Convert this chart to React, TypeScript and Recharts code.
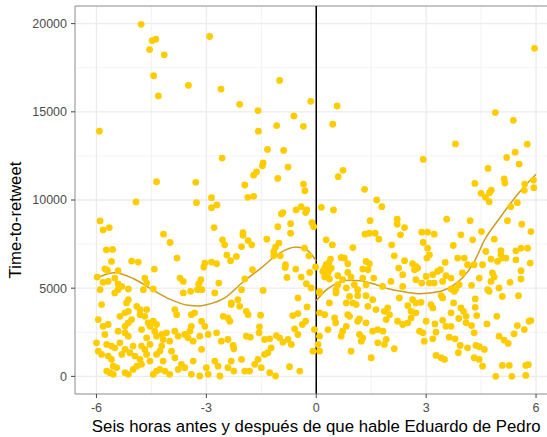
import React from 'react';
import {
  ComposedChart,
  Scatter,
  Line,
  XAxis,
  YAxis,
  CartesianGrid,
  ReferenceLine,
  Customized,
} from 'recharts';

// [hours relative to the speech, time-to-retweet]
const before: [number, number][] = [
  [-4.78, 19960], [-4.48, 19040], [-4.38, 19115], [-4.55, 18530], [-4.15, 18230], [-4.44, 17045],
  [-3.49, 16500], [-4.31, 15900], [-5.92, 13900], [-4.36, 11035], [-3.29, 11000],
  [-2.91, 19270], [-2.6, 16290], [-1.0, 16780], [-2.09, 15425], [-1.59, 15070], [-0.15, 15595],
  [-0.61, 14765], [-1.08, 14220], [-0.35, 14180], [-1.58, 13900], [-1.33, 12865], [-0.89, 12810],
  [-2.57, 12375], [-1.45, 12110], [-1.47, 11940], [-0.77, 11865], [-1.63, 11600], [-1.71, 11410],
  [-1.05, 11225], [-1.95, 10850], [-0.35, 10905], [-0.31, 10525], [-2.86, 10130], [-1.87, 10150],
  [-1.71, 10210],
  [-4.92, 9890], [-5.9, 8815], [-5.82, 8305], [-5.65, 8435], [-5.73, 7175], [-5.56, 7195],
  [-5.59, 6515], [-5.04, 6535], [-4.86, 6480], [-5.77, 6100], [-5.7, 6005], [-5.41, 5990],
  [-5.98, 5630], [-5.82, 5330], [-5.68, 5385], [-5.5, 5575], [-5.41, 5240], [-5.31, 5100],
  [-5.9, 4915], [-5.41, 4915], [-5.13, 4955], [-4.68, 5575], [-4.63, 5290], [-4.72, 4915],
  [-4.45, 4955], [-4.42, 6085], [-4.17, 8060], [-3.99, 7590], [-3.8, 6705], [-3.72, 5575],
  [-3.63, 5385], [-3.63, 4730], [-3.43, 4820], [-3.27, 9850], [-2.86, 9565], [-2.71, 9720],
  [-2.79, 8435], [-2.56, 7740], [-2.5, 7460], [-2.44, 6875], [-2.34, 6555], [-3.04, 6425],
  [-2.86, 6480], [-2.72, 6385], [-3.07, 6200], [-3.15, 5480], [-3.21, 5240], [-3.24, 4915],
  [-3.12, 4915], [-2.66, 5290],
  [-5.5, 4730], [-5.86, 4070], [-5.18, 4165], [-5.13, 4350], [-4.9, 3970], [-4.81, 3785],
  [-4.63, 3785], [-4.81, 3500], [-4.68, 3405], [-5.36, 3405], [-5.22, 3600], [-5.13, 3690],
  [-5.95, 3220], [-5.68, 2940], [-5.82, 2840], [-5.22, 2840], [-5.41, 2560], [-5.22, 2470],
  [-5.13, 2280], [-5.77, 2375], [-4.54, 2840], [-4.45, 3125], [-4.36, 2940], [-3.86, 3785],
  [-3.81, 3500], [-3.41, 3500], [-3.32, 3600], [-3.41, 2840], [-3.45, 2560], [-3.59, 2375],
  [-3.77, 2280], [-3.86, 2560], [-4.09, 2470], [-4.22, 2375], [-3.13, 3125], [-3.04, 2840],
  [-2.95, 2375], [-2.72, 2470], [-2.59, 1995], [-2.41, 2090], [-2.77, 4730], [-2.32, 4070],
  [-2.54, 3405], [-2.41, 3315], [-2.36, 3125], [-3.13, 1525], [-3.36, 865], [-3.18, 20],
  [-2.95, 113], [-3.0, 490], [-2.77, 865], [-2.68, 580], [-2.41, 490], [-2.63, 20],
  [-2.32, 865], [-6.0, 1900], [-5.95, 1430], [-5.86, 1245], [-5.72, 1810], [-5.59, 1715],
  [-5.5, 1620], [-5.68, 1150], [-5.59, 960], [-5.54, 580], [-5.45, 490], [-5.72, 300],
  [-5.63, 210], [-5.54, 113], [-5.31, 1245], [-5.22, 1525], [-5.09, 1340], [-5.0, 1715],
  [-4.95, 1150], [-4.81, 960], [-4.77, 1715], [-4.68, 1525], [-4.63, 1245], [-4.54, 865],
  [-4.77, 680], [-4.9, 580], [-5.0, 395], [-5.22, 210], [-5.13, 113], [-5.36, 1900],
  [-4.36, 300], [-4.45, 113], [-4.27, 395], [-4.13, 300], [-4.0, 113], [-4.18, 865],
  [-4.36, 1245], [-4.27, 1430], [-4.22, 1715], [-3.95, 1430], [-3.86, 1055], [-3.68, 680],
  [-3.59, 490], [-3.77, 395], [-3.41, 113], [-3.5, 2185], [-3.36, 1995], [-3.18, 2280],
  [-4.0, 1995], [-4.18, 2090], [-4.54, 1810], [-4.63, 2185], [-4.77, 2655], [-4.59, 3035],
  [-4.41, 2560], [-4.36, 2280], [-5.13, 3035], [-5.04, 3220],
  [-0.91, 9285], [-0.95, 9210], [-0.55, 9435], [-0.41, 9620], [-0.26, 9435], [-0.29, 9285],
  [-0.7, 8660], [-1.05, 8490], [-0.12, 8715], [-0.07, 8490], [-0.7, 8115], [-2.0, 8150],
  [-2.0, 8000], [-1.35, 7780], [-1.86, 7700], [-1.76, 7460], [-2.04, 7360], [-1.02, 7555],
  [-1.11, 7330], [-1.16, 7080], [-1.16, 6835], [-0.98, 6835], [-0.32, 7270], [-0.2, 6835],
  [-2.18, 6800], [-0.84, 6330], [-0.85, 6175], [-0.56, 6085], [-0.02, 6200], [-0.18, 5895],
  [-1.74, 6045], [-0.8, 5610], [-0.41, 5630], [-1.95, 5520], [-0.27, 5255], [-0.14, 5010],
  [-1.45, 4875], [-2.04, 4915],
  [-2.14, 4350], [-2.32, 4165], [-2.09, 3970], [-1.91, 3690], [-1.86, 3500], [-1.52, 3465],
  [-1.55, 2810], [-1.56, 2470], [-1.91, 2280], [-1.8, 2220], [-2.27, 1750], [-2.25, 1565],
  [-1.41, 2090], [-1.27, 2130], [-1.09, 2315], [-1.0, 2185], [-0.91, 1940], [-0.77, 2090],
  [-0.68, 1810], [-1.23, 1620], [-1.32, 1340], [-1.41, 1245], [-1.59, 960], [-1.68, 680],
  [-1.5, 490], [-2.04, 960], [-2.25, 300], [-1.95, 300], [-1.82, 300], [-1.27, 210],
  [-1.11, 20], [-0.73, 545], [-0.45, 300], [-0.5, 4445], [-0.25, 3940], [-0.64, 3445],
  [-0.5, 3560], [-0.29, 3125], [-0.38, 2940], [-0.59, 2695], [-0.5, 2375], [-0.09, 1430],
  [-0.05, 2655],
];

const after: [number, number][] = [
  [5.96, 18600], [4.89, 14955], [5.38, 14520], [3.8, 13180], [5.76, 13165], [2.92, 12300],
  [5.43, 12710], [5.2, 12410], [5.54, 12035], [4.69, 11790], [1.32, 10605], [4.33, 10940],
  [5.13, 11190], [5.15, 10960], [5.69, 10905], [5.93, 11130], [5.94, 10700], [5.68, 10550],
  [4.5, 10380], [4.78, 10565], [4.73, 10415], [4.62, 10150], [1.65, 10000], [0.57, 15330],
  [0.45, 14295], [0.73, 11680], [0.6, 11320],
  [0.14, 9585], [0.47, 9435], [0.27, 7740], [0.44, 7460], [1.0, 7305], [1.33, 8060],
  [1.45, 8115], [1.61, 8115], [1.71, 7780], [1.47, 8830], [1.79, 9620], [0.68, 6740],
  [0.77, 6705], [0.86, 6385], [0.39, 6650], [0.34, 6425], [0.27, 6330], [0.23, 6140],
  [0.41, 6140], [0.18, 5950], [0.32, 5860], [0.36, 6045], [0.23, 5630], [0.36, 5520],
  [0.59, 5705], [0.86, 5895], [0.95, 5630], [0.72, 5480], [0.59, 5200], [1.04, 5200],
  [1.36, 6515], [1.45, 6385], [1.27, 6085], [1.41, 6045], [1.57, 5575], [1.27, 5575],
  [1.36, 5200], [1.81, 5100], [0.82, 5010], [0.54, 4915], [0.09, 4820], [1.13, 4915],
  [0.09, 4730], [0.36, 4165], [0.54, 4730], [0.91, 4535], [1.13, 4575], [1.36, 4575],
  [1.54, 4350], [0.09, 3600], [0.23, 3500], [0.5, 3315], [0.53, 3035], [0.82, 4165],
  [1.0, 4165], [1.09, 4070], [0.86, 3500], [0.91, 3405], [1.13, 3125], [1.18, 3260],
  [1.41, 3970], [1.63, 3785], [1.36, 3035], [1.86, 3690], [1.91, 3220], [0.82, 2840],
  [0.72, 2560], [0.68, 2280], [0.32, 2655], [0.09, 2280], [0.05, 1810], [0.09, 1430],
  [1.18, 2375], [1.23, 1995], [1.27, 2185], [1.54, 2560], [1.68, 2655], [1.82, 2560],
  [1.68, 1900], [1.86, 1810], [0.95, 1430], [1.5, 1055],
  [4.72, 9905], [5.31, 9620], [5.49, 9850], [5.22, 8830], [5.61, 8625], [5.86, 8210],
  [2.21, 8910], [2.21, 8625], [2.41, 8435], [2.3, 8025], [3.56, 8910], [4.2, 8830],
  [2.88, 8175], [3.04, 8175], [3.22, 8060], [3.95, 8025], [4.51, 8210], [4.27, 7740],
  [4.86, 7780], [2.92, 7590], [2.06, 7460], [3.74, 7420], [3.04, 7270], [4.63, 7080],
  [5.04, 7135], [5.59, 7270], [5.77, 7270], [5.45, 7120], [2.13, 6835], [3.09, 6890],
  [3.02, 6705], [5.04, 6890], [5.08, 6705], [5.18, 6705], [3.86, 6705], [4.04, 6705],
  [4.77, 6650], [5.45, 6610], [2.41, 6555], [3.52, 6460], [4.95, 6515], [2.63, 6385],
  [2.72, 6230], [2.77, 6140], [2.68, 6045], [2.25, 6140], [4.31, 6330], [4.54, 6330],
  [5.84, 6425], [4.13, 6330], [3.99, 5860], [3.39, 6045], [5.59, 5990], [2.36, 5765],
  [3.0, 5665], [3.18, 5765], [3.31, 5950], [3.54, 5705], [3.68, 5575], [4.81, 5860],
  [4.86, 5630], [4.77, 5385], [4.45, 5575], [5.59, 5520], [5.29, 5330], [2.72, 5480],
  [2.04, 5385], [2.88, 5290], [3.09, 5290], [3.22, 5290], [3.45, 5385], [3.9, 5200],
  [4.24, 5160], [4.99, 5010], [2.36, 5100], [3.68, 4955], [3.81, 4955], [4.68, 4915],
  [1.95, 3880], [2.0, 3500], [2.22, 3125], [2.36, 2940], [2.5, 3035], [2.59, 3315],
  [2.27, 4445], [2.5, 4010], [2.59, 3690], [2.72, 3600], [2.72, 4165], [2.86, 4200],
  [2.63, 4350], [3.13, 4070], [3.18, 3880], [3.41, 4575], [3.45, 4445], [3.77, 4820],
  [3.75, 4165], [3.68, 3600], [3.95, 3880], [4.02, 3690], [4.09, 3405], [3.89, 3280],
  [4.09, 3035], [4.24, 2880], [4.34, 3915], [4.34, 4390], [4.38, 3445], [4.72, 4820],
  [5.08, 4535], [5.52, 4575], [4.66, 2975], [4.93, 3405], [3.0, 3125], [3.24, 2975],
  [3.45, 3180], [3.54, 2840], [3.68, 2840], [2.82, 2560], [2.91, 2470], [3.27, 2505],
  [2.95, 1995], [3.18, 2130], [3.63, 2220], [3.79, 2130], [3.93, 1750], [3.88, 1340],
  [4.13, 1620], [4.31, 2470], [1.91, 2090], [2.13, 1565], [3.27, 1185], [3.41, 1055],
  [3.5, 960], [4.36, 1750], [4.45, 1680], [4.59, 1525], [4.31, 1055], [4.45, 960],
  [4.54, 580], [4.99, 2280], [5.13, 2050], [5.24, 1865], [5.4, 2410], [5.49, 2880],
  [5.68, 2655], [5.81, 3125], [5.86, 3165], [5.08, 620], [5.27, 620], [5.72, 620],
  [5.79, 660], [4.9, 0], [5.34, 0], [5.72, 55],
];

// Smoothed trend before and after the speech
const trendBeforeHours = [-6, -5.5, -5, -4.5, -4, -3.5, -3.2, -3, -2.5, -2, -1.5, -1, -0.55, -0.25, 0];
const trendBeforeTime = [5580, 5880, 5550, 4950, 4380, 4030, 3990, 4060, 4450, 5350, 6150, 6990, 7330, 7150, 6550];
const trendAfterHours = [0, 0.3, 0.5, 0.9, 1.2, 1.5, 2, 2.5, 2.8, 3.1, 3.4, 3.7, 4, 4.3, 4.6, 5, 5.5, 6];
const trendAfterTime = [4300, 4950, 5200, 5450, 5420, 5280, 4950, 4760, 4690, 4730, 4830, 5100, 5600, 6450, 7750, 8950, 10330, 11460];

const xTicks = [-6, -3, 0, 3, 6];
const xMinorTicks = [-4.5, -1.5, 1.5, 4.5];
const yTicks = [0, 5000, 10000, 15000, 20000];
const yMinorTicks = [2500, 7500, 12500, 17500];

const xTitle = 'Seis horas antes y después de que hable Eduardo de Pedro';
const yTitle = 'Time-to-retweet';

const X_DOMAIN: [number, number] = [-6.586, 6.586];
const Y_DOMAIN: [number, number] = [-1000, 21000];

const FONT = '"Liberation Sans", Arial, Helvetica, sans-serif';
const POINT = '#FFCC00';
const TREND = '#CF9C1E';

const toPoints = (pairs: [number, number][]) => pairs.map(([x, y]) => ({ x, y }));
const toTrend = (hours: number[], time: number[]) => hours.map((x, i) => ({ x, y: time[i] }));

const beforePoints = toPoints(before);
const afterPoints = toPoints(after);
const beforeTrend = toTrend(trendBeforeHours, trendBeforeTime);
const afterTrend = toTrend(trendAfterHours, trendAfterTime);

const Dot = (props: any) => {
  const { cx, cy } = props;
  if (cx == null || cy == null) return null;
  return <circle cx={cx} cy={cy} r={3.4} fill={POINT} />;
};

const Titles = () => (
  <g fontFamily={FONT}>
    <text x={316.25} y={431.7} textAnchor="middle" fontSize={16.8} fill="#000">
      {xTitle}
    </text>
    <text transform="rotate(-90)" x={-220} y={20.5} textAnchor="middle" fontSize={16.8} fill="#000">
      {yTitle}
    </text>
  </g>
);

export default function App() {
  return (
    <div style={{ position: 'fixed', left: 0, top: 0, width: 547, height: 437, overflow: 'hidden', background: '#fff' }}>
      <ComposedChart
        width={560}
        height={437}
        margin={{ top: 6, right: 2.5, bottom: 0, left: 0 }}
        style={{ fontFamily: FONT }}
      >
        <CartesianGrid
          stroke="#F0F0F0"
          strokeWidth={0.8}
          horizontalValues={yMinorTicks}
          verticalValues={xMinorTicks}
        />
        <CartesianGrid
          stroke="#EBEBEB"
          strokeWidth={1.3}
          horizontalValues={yTicks}
          verticalValues={xTicks}
        />
        <XAxis
          type="number"
          dataKey="x"
          domain={X_DOMAIN}
          ticks={xTicks}
          allowDataOverflow
          height={43}
          tickSize={4}
          tickMargin={5}
          axisLine={{ stroke: '#8C8C8C', strokeWidth: 1 }}
          tickLine={{ stroke: '#444', strokeWidth: 1 }}
          tick={{ fill: '#4D4D4D', fontSize: 12.5, fontFamily: FONT }}
        />
        <YAxis
          type="number"
          dataKey="y"
          domain={Y_DOMAIN}
          ticks={yTicks}
          allowDataOverflow
          width={75}
          tickSize={4}
          tickMargin={4}
          axisLine={{ stroke: '#8C8C8C', strokeWidth: 1 }}
          tickLine={{ stroke: '#444', strokeWidth: 1 }}
          tick={{ fill: '#4D4D4D', fontSize: 12.5, fontFamily: FONT }}
        />
        <ReferenceLine y={21000} stroke="#8C8C8C" strokeWidth={1} />
        <Scatter data={beforePoints} dataKey="y" shape={<Dot />} isAnimationActive={false} />
        <Scatter data={afterPoints} dataKey="y" shape={<Dot />} isAnimationActive={false} />
        <ReferenceLine x={0} stroke="#000" strokeWidth={1.5} />
        <Line
          data={beforeTrend}
          dataKey="y"
          type="monotone"
          stroke={TREND}
          strokeWidth={1.5}
          dot={false}
          activeDot={false}
          isAnimationActive={false}
        />
        <Line
          data={afterTrend}
          dataKey="y"
          type="monotone"
          stroke={TREND}
          strokeWidth={1.5}
          dot={false}
          activeDot={false}
          isAnimationActive={false}
        />
        <Customized component={<Titles />} />
      </ComposedChart>
    </div>
  );
}
